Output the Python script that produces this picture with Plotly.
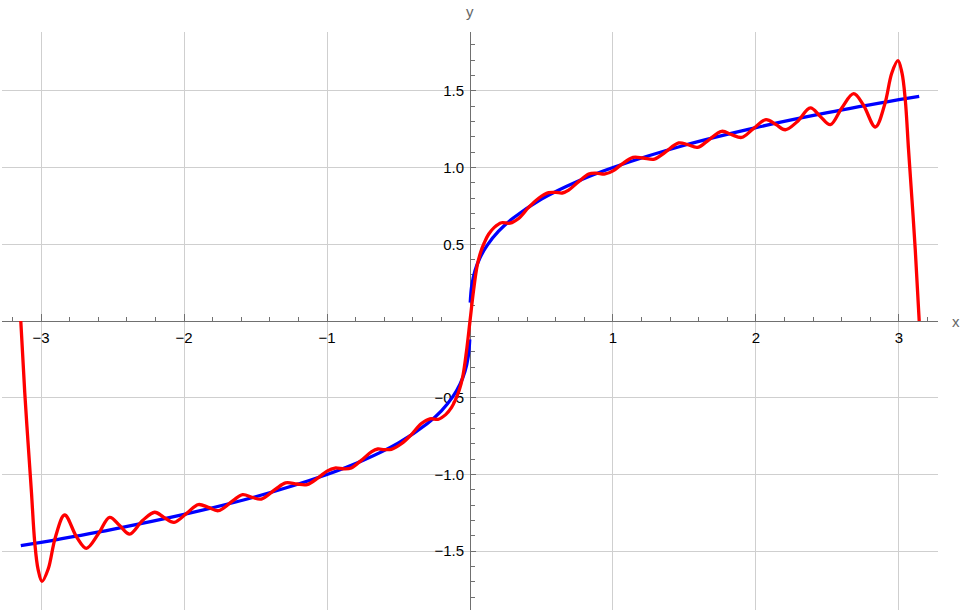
import plotly.graph_objects as go

# curve values
blue_x = [-3.1416, -3.0, -2.5, -2.0, -1.5, -1.0, -0.75, -0.5, -0.3, -0.2, -0.12, -0.07, -0.035, -0.012, -0.0017,
          None,
          0.0017, 0.012, 0.035, 0.07, 0.12, 0.2, 0.3, 0.5, 0.75, 1.0, 1.5, 2.0, 2.5, 3.0, 3.1416]
blue_y = [-1.464, -1.442, -1.357, -1.26, -1.145, -1.0, -0.909, -0.794, -0.669, -0.585, -0.493, -0.412, -0.327, -0.229, -0.12,
          None,
          0.12, 0.229, 0.327, 0.412, 0.493, 0.585, 0.669, 0.794, 0.909, 1.0, 1.145, 1.26, 1.357, 1.442, 1.464]

red_x = [-3.1416, -3.114, -3.091, -3.067, -3.044, -3.021, -2.993, -2.95, -2.90, -2.835, -2.75, -2.683, -2.60,
         -2.52, -2.45, -2.38, -2.29, -2.205, -2.14, -2.07, -1.98, -1.90, -1.83, -1.76, -1.66, -1.59, -1.52,
         -1.46, -1.36, -1.29, -1.21, -1.14, -1.06, -1.0, -0.945, -0.88, -0.83, -0.76, -0.69, -0.645, -0.60,
         -0.55, -0.48, -0.41, -0.34, -0.28, -0.22, -0.17, -0.13, -0.10, -0.075, -0.05, -0.025,
         0.0,
         0.025, 0.05, 0.075, 0.10, 0.13, 0.17, 0.22, 0.28, 0.34, 0.41, 0.48, 0.55, 0.60, 0.645, 0.69, 0.76,
         0.83, 0.88, 0.945, 1.0, 1.06, 1.14, 1.21, 1.29, 1.36, 1.46, 1.52, 1.59, 1.66, 1.76, 1.83, 1.90,
         1.98, 2.07, 2.14, 2.205, 2.29, 2.38, 2.45, 2.52, 2.60, 2.683, 2.75, 2.835, 2.90, 2.95, 2.993,
         3.021, 3.044, 3.067, 3.091, 3.114, 3.1416]
red_y = [0.0, -0.465, -0.79, -1.116, -1.442, -1.616, -1.696, -1.616, -1.41, -1.264, -1.409, -1.481, -1.388,
         -1.279, -1.333, -1.388, -1.30, -1.246, -1.28, -1.312, -1.252, -1.196, -1.214, -1.236, -1.172, -1.131, -1.15,
         -1.16, -1.096, -1.055, -1.062, -1.066, -1.02, -0.978, -0.958, -0.964, -0.958, -0.908, -0.853, -0.834, -0.838,
         -0.836, -0.80, -0.74, -0.668, -0.637, -0.64, -0.61, -0.565, -0.51, -0.45, -0.36, -0.20,
         0.0,
         0.20, 0.36, 0.45, 0.51, 0.565, 0.61, 0.64, 0.637, 0.668, 0.74, 0.80, 0.836, 0.838, 0.834, 0.853, 0.908,
         0.958, 0.964, 0.958, 0.978, 1.02, 1.066, 1.062, 1.055, 1.096, 1.16, 1.15, 1.131, 1.172, 1.236, 1.214, 1.196,
         1.252, 1.312, 1.28, 1.246, 1.30, 1.388, 1.333, 1.279, 1.388, 1.481, 1.409, 1.264, 1.41, 1.616, 1.696,
         1.616, 1.442, 1.116, 0.79, 0.465, 0.0]

x_ticks = [-3, -2, -1, 1, 2, 3]
x_labels = ["\u22123", "\u22122", "\u22121", "1", "2", "3"]
y_ticks = [-1.5, -1.0, -0.5, 0.5, 1.0, 1.5]
y_labels = ["\u22121.5", "\u22121.0", "\u22120.5", "0.5", "1.0", "1.5"]

axis_col = "#707070"
grid_col = "#cfcfcf"
lbl_font = dict(family="Liberation Sans", size=15, color="#000")

fig = go.Figure()
fig.add_trace(go.Scatter(x=blue_x, y=blue_y, mode="lines", connectgaps=False,
                         line=dict(color="#0000ff", width=3.3, shape="spline")))
fig.add_trace(go.Scatter(x=red_x, y=red_y, mode="lines",
                         line=dict(color="#ff0000", width=3.3, shape="spline")))

fig.update_xaxes(range=[-3.273, 3.273], anchor="free", position=0.5,
                 tickmode="array", tickvals=x_ticks, ticktext=x_labels,
                 ticks="inside", ticklen=7, tickcolor=axis_col, tickwidth=1, ticklabelstandoff=3,
                 minor=dict(dtick=0.2, tick0=0, ticks="inside", ticklen=4, tickcolor=axis_col, showgrid=False),
                 showline=True, linecolor=axis_col, linewidth=1, layer="below traces",
                 showgrid=True, gridcolor=grid_col, gridwidth=1, zeroline=False,
                 tickfont=lbl_font)
fig.update_yaxes(range=[-1.883, 1.883], anchor="free", position=0.5,
                 tickmode="array", tickvals=y_ticks, ticktext=y_labels,
                 ticks="inside", ticklen=5, tickcolor=axis_col, tickwidth=1, ticklabelstandoff=3,
                 minor=dict(dtick=0.1, tick0=0, ticks="inside", ticklen=4, tickcolor=axis_col, showgrid=False),
                 showline=True, linecolor=axis_col, linewidth=1, layer="below traces",
                 showgrid=True, gridcolor=grid_col, gridwidth=1, zeroline=False,
                 tickfont=lbl_font)

fig.add_annotation(text="x", xref="paper", yref="y", x=1, y=0, xanchor="left", yanchor="middle",
                   xshift=12, showarrow=False, font=dict(family="Liberation Sans", size=15, color="#666"))
fig.add_annotation(text="y", xref="x", yref="paper", x=0, y=1, xanchor="center", yanchor="bottom",
                   yshift=10, showarrow=False, font=dict(family="Liberation Sans", size=15, color="#666"))

fig.update_layout(width=960, height=613, margin=dict(l=2, r=22, t=32, b=3),
                  showlegend=False, plot_bgcolor="white", paper_bgcolor="white")

# drop the browser's default body margin so the figure sits at the page corner
fig.write_html("out.html", config={"displayModeBar": False},
               post_script="document.body.style.margin='0';")
